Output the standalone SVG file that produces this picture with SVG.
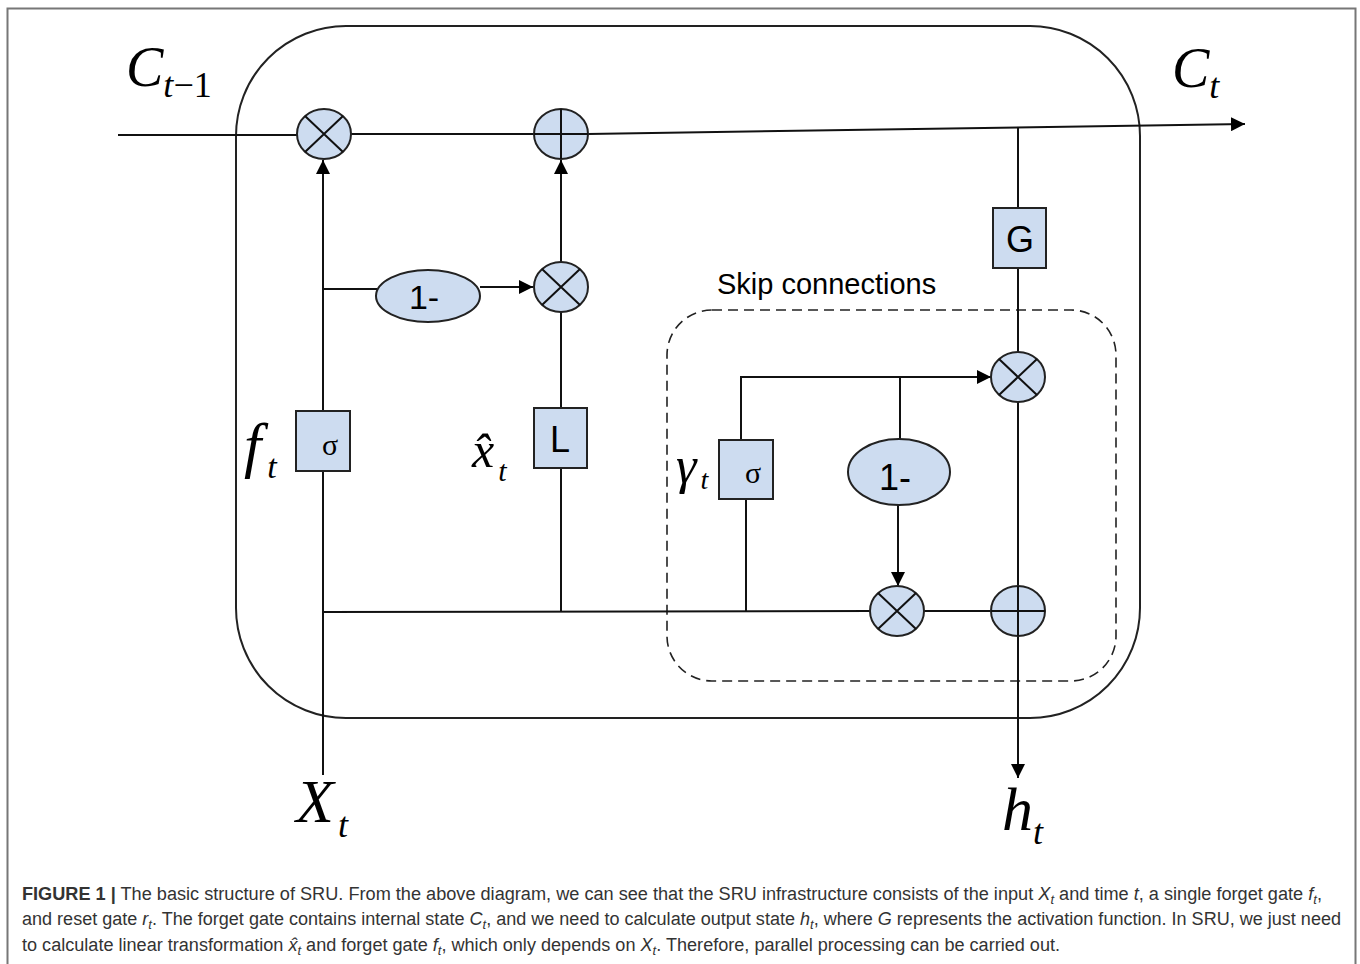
<svg xmlns="http://www.w3.org/2000/svg" width="1360" height="964" viewBox="0 0 1360 964">
<style>
.ln{stroke:#111;stroke-width:2;fill:none}
.nd{fill:#cddcf0;stroke:#222;stroke-width:2}
.mth{font-family:"Liberation Serif",serif;font-style:italic;fill:#000}
.up{font-family:"Liberation Serif",serif;font-style:normal;fill:#000}
.lbl{font-family:"Liberation Sans",Arial,sans-serif;fill:#000}
.cap{font-family:"Liberation Sans",Arial,sans-serif;font-size:18px;fill:#333}
</style>
<defs>
<marker id="ahb" viewBox="0 0 10 10" refX="10" refY="5" markerWidth="14" markerHeight="14" markerUnits="userSpaceOnUse" orient="auto">
<path d="M0,0 L10,5 L0,10 Z" fill="#000"/>
</marker>
</defs>
<rect width="1360" height="964" fill="#fff"/>
<path d="M7.5,980 V8.5 H1355.5 V980" fill="none" stroke="#777" stroke-width="2"/>
<rect x="236" y="26" width="904" height="692" rx="110" ry="110" fill="none" stroke="#222" stroke-width="2"/>
<rect x="667" y="310" width="449" height="371" rx="45" ry="45" fill="none" stroke="#222" stroke-width="1.6" stroke-dasharray="10,6"/>
<g id="connectors">
<line class="ln" x1="118" y1="135" x2="297" y2="135"/>
<line class="ln" x1="351" y1="134" x2="534" y2="134"/>
<line class="ln" x1="588" y1="134" x2="1245" y2="124" marker-end="url(#ahb)"/>
<line class="ln" x1="323" y1="775" x2="323" y2="160" marker-end="url(#ahb)"/>
<line class="ln" x1="323" y1="289" x2="377" y2="289"/>
<line class="ln" x1="480" y1="287" x2="533" y2="287" marker-end="url(#ahb)"/>
<line class="ln" x1="561" y1="262" x2="561" y2="160" marker-end="url(#ahb)"/>
<line class="ln" x1="561" y1="312" x2="561" y2="408"/>
<line class="ln" x1="561" y1="468" x2="561" y2="612"/>
<line class="ln" x1="323" y1="612" x2="870" y2="611"/>
<line class="ln" x1="924" y1="611" x2="992" y2="611"/>
<line class="ln" x1="746" y1="612" x2="746" y2="499"/>
<polyline class="ln" points="741,440 741,377 991,377" marker-end="url(#ahb)"/>
<line class="ln" x1="900" y1="377" x2="900" y2="439"/>
<line class="ln" x1="898" y1="505" x2="898" y2="586" marker-end="url(#ahb)"/>
<line class="ln" x1="1018" y1="128" x2="1018" y2="208"/>
<line class="ln" x1="1018" y1="268" x2="1018" y2="353"/>
<line class="ln" x1="1018" y1="401" x2="1018" y2="778" marker-end="url(#ahb)"/>
</g>
<g id="mul1"><ellipse class="nd" cx="324" cy="134" rx="27" ry="25"/><path class="ln" d="M305,116 L343,152 M343,116 L305,152"/></g>
<g id="add1"><ellipse class="nd" cx="561" cy="134" rx="27" ry="25"/><path class="ln" d="M534,134 H588 M561,109 V159"/></g>
<g id="one1"><ellipse class="nd" cx="428" cy="296" rx="52" ry="26"/><text class="lbl" x="424" y="309" font-size="34" text-anchor="middle">1-</text></g>
<g id="mul2"><ellipse class="nd" cx="561" cy="287" rx="27" ry="25"/><path class="ln" d="M542,269 L580,305 M580,269 L542,305"/></g>
<g id="sig1"><rect class="nd" x="296" y="411" width="54" height="60"/><text class="up" x="330" y="455" font-size="30" text-anchor="middle">σ</text></g>
<g id="lin"><rect class="nd" x="534" y="408" width="53" height="60"/><text class="lbl" x="560" y="452" font-size="36" text-anchor="middle">L</text></g>
<g id="gbox"><rect class="nd" x="993" y="208" width="53" height="60"/><text class="lbl" x="1020" y="252" font-size="36" text-anchor="middle">G</text></g>
<g id="mul3"><ellipse class="nd" cx="1018" cy="377" rx="27" ry="25"/><path class="ln" d="M999,359 L1037,395 M1037,359 L999,395"/></g>
<g id="sig2"><rect class="nd" x="719" y="440" width="54" height="59"/><text class="up" x="753" y="483" font-size="30" text-anchor="middle">σ</text></g>
<g id="one2"><ellipse class="nd" cx="899" cy="472" rx="51" ry="33"/><text class="lbl" x="895" y="490" font-size="36" text-anchor="middle">1-</text></g>
<g id="mul4"><ellipse class="nd" cx="897" cy="611" rx="27" ry="25"/><path class="ln" d="M878,593 L916,629 M916,593 L878,629"/></g>
<g id="add2"><ellipse class="nd" cx="1018" cy="611" rx="27" ry="25"/><path class="ln" d="M991,611 H1045 M1018,586 V636"/></g>
<text class="lbl" x="717" y="294" font-size="29">Skip connections</text>
<text class="mth" x="126" y="86" font-size="56">C<tspan font-size="36" dy="11">t</tspan><tspan font-size="36" style="font-style:normal">−1</tspan></text>
<text class="mth" x="1172" y="87" font-size="56">C<tspan font-size="36" dy="11">t</tspan></text>
<text class="mth" x="244" y="466" font-size="62">f<tspan font-size="34" dy="12" dx="6">t</tspan></text>
<text class="mth" x="472" y="467" font-size="50">x̂<tspan font-size="30" dy="14" dx="4">t</tspan></text>
<text class="mth" x="676" y="483" font-size="52">γ<tspan font-size="28" dy="6" dx="4">t</tspan></text>
<text class="mth" x="296" y="822" font-size="62">X<tspan font-size="36" dy="15" dx="4">t</tspan></text>
<text class="mth" x="1002" y="830" font-size="62">h<tspan font-size="36" dy="14">t</tspan></text>
<text class="cap" x="22" y="900" textLength="1300" lengthAdjust="spacingAndGlyphs"><tspan font-weight="bold">FIGURE 1 |</tspan> The basic structure of SRU. From the above diagram, we can see that the SRU infrastructure consists of the input <tspan font-style="italic">X</tspan><tspan font-style="italic" font-size="13" dy="4">t</tspan><tspan dy="-4"> and time </tspan><tspan font-style="italic">t</tspan>, a single forget gate <tspan font-style="italic">f</tspan><tspan font-style="italic" font-size="13" dy="4">t</tspan><tspan dy="-4">,</tspan></text>
<text class="cap" x="22" y="925" textLength="1319" lengthAdjust="spacingAndGlyphs">and reset gate <tspan font-style="italic">r</tspan><tspan font-style="italic" font-size="13" dy="4">t</tspan><tspan dy="-4">. The forget gate contains internal state </tspan><tspan font-style="italic">C</tspan><tspan font-style="italic" font-size="13" dy="4">t</tspan><tspan dy="-4">, and we need to calculate output state </tspan><tspan font-style="italic">h</tspan><tspan font-style="italic" font-size="13" dy="4">t</tspan><tspan dy="-4">, where </tspan><tspan font-style="italic">G</tspan> represents the activation function. In SRU, we just need</text>
<text class="cap" x="22" y="951" textLength="1038" lengthAdjust="spacingAndGlyphs">to calculate linear transformation <tspan font-style="italic">x̂</tspan><tspan font-style="italic" font-size="13" dy="4">t</tspan><tspan dy="-4"> and forget gate </tspan><tspan font-style="italic">f</tspan><tspan font-style="italic" font-size="13" dy="4">t</tspan><tspan dy="-4">, which only depends on </tspan><tspan font-style="italic">X</tspan><tspan font-style="italic" font-size="13" dy="4">t</tspan><tspan dy="-4">. Therefore, parallel processing can be carried out.</tspan></text>
</svg>
